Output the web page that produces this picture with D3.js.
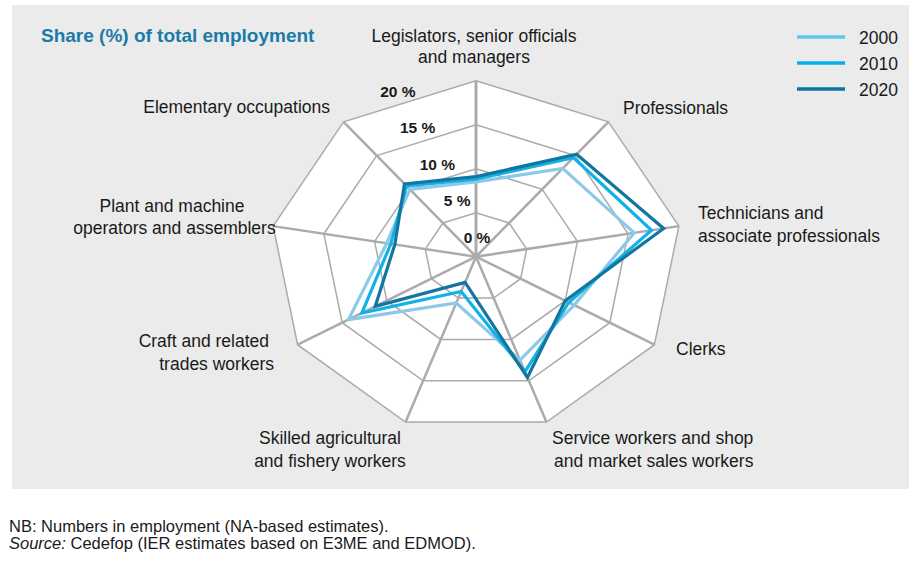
<!DOCTYPE html>
<html><head><meta charset="utf-8">
<script src="https://cdn.jsdelivr.net/npm/d3@7"></script>
<style>
html,body{margin:0;padding:0;background:#fff;}
svg{display:block;font-family:"Liberation Sans",Arial,Helvetica,sans-serif;}
</style></head>
<body>
<svg id="chart" width="918" height="565"></svg>
<script>
// ---- data ----
const categories = [
  "Legislators, senior officials|and managers",
  "Professionals",
  "Technicians and|associate professionals",
  "Clerks",
  "Service workers and shop|and market sales workers",
  "Skilled agricultural|and fishery workers",
  "Craft and related|trades workers",
  "Plant and machine|operators and assemblers",
  "Elementary occupations"
];
const years = ["2000", "2010", "2020"];
const values2000 = [8.5, 13.1, 15.6, 11.0, 12.5, 5.6, 14.3, 8.8, 10.0];
const values2010 = [8.8, 14.7, 17.3, 10.4, 13.9, 4.2, 12.8, 8.4, 10.5];
const values2020 = [9.1, 15.2, 18.5, 10.0, 14.6, 3.1, 11.3, 8.0, 10.8];
const tickValues = [0, 5, 10, 15, 20];
const tickLabels = ["0 %", "5 %", "10 %", "15 %", "20 %"];
const seriesColors = ["#8cc9e8", "#12b1e6", "#13769f"];
const legendColors = ["#5fc6ee", "#05afe8", "#0a76a0"];

// ---- layout ----
const svg = d3.select("#chart");
const cx = 476, cy = 256.7;
const rX = d3.scaleLinear().domain([0, 20]).range([0, 206]);
const rY = d3.scaleLinear().domain([0, 20]).range([0, 176]);
const angle = d3.scaleLinear().domain([0, categories.length]).range([0, 2 * Math.PI]);
const pt = (i, v) => [cx + rX(v) * Math.sin(angle(i)), cy - rY(v) * Math.cos(angle(i))];

// background panel
svg.append("rect").attr("x", 12).attr("y", 5).attr("width", 897).attr("height", 484).attr("fill", "#ebebeb");

// white plot area
const outer = categories.map((c, i) => pt(i, 20));
svg.append("polygon").attr("points", outer.map(p => p.join(",")).join(" ")).attr("fill", "#fff");

// rings
tickValues.filter(v => v > 0).forEach(v => {
  svg.append("polygon")
    .attr("points", categories.map((c, i) => pt(i, v).join(",")).join(" "))
    .attr("fill", "none").attr("stroke", "#ababab").attr("stroke-width", 1.5);
});
// spokes
categories.forEach((c, i) => {
  const p = pt(i, 20);
  svg.append("line").attr("x1", cx).attr("y1", cy).attr("x2", p[0]).attr("y2", p[1])
    .attr("stroke", "#ababab").attr("stroke-width", i === 0 ? 3 : 2.5);
});

// series
const allSeries = [values2000, values2010, values2020];
const lineGen = d3.line().curve(d3.curveLinearClosed);
allSeries.forEach((vals, s) => {
  svg.append("path")
    .attr("d", lineGen(vals.map((v, i) => pt(i, v))))
    .attr("fill", "none").attr("stroke", seriesColors[s]).attr("stroke-width", 3.2)
    .attr("stroke-linejoin", "miter");
});

// tick labels
tickValues.forEach((v, k) => {
  svg.append("text")
    .attr("x", cx + 1 - rY(v) * 0.45)
    .attr("y", cy - 14 - rY(v) * 0.83)
    .attr("text-anchor", "middle")
    .attr("font-size", 15.5).attr("font-weight", "bold").attr("fill", "#1a1a1a")
    .text(tickLabels[k]);
});

// category label lines: [x, baseline y, anchor] per line
const labelPos = [
  [[474, 42, "middle"], [474, 63, "middle"]],
  [[623, 114, "start"]],
  [[698, 219, "start"], [698, 242, "start"]],
  [[676, 355, "start"]],
  [[552, 444, "start"], [554, 467, "start"]],
  [[330, 444, "middle"], [330, 467, "middle"]],
  [[269, 347, "end"], [274, 370, "end"]],
  [[172, 212, "middle"], [174.5, 234, "middle"]],
  [[330, 113, "end"]]
];
categories.forEach((c, i) => {
  c.split("|").forEach((ln, j) => {
    const p = labelPos[i][j];
    svg.append("text").attr("x", p[0]).attr("y", p[1]).attr("text-anchor", p[2])
      .attr("font-size", 17.5).attr("fill", "#1a1a1a").text(ln);
  });
});

// title
svg.append("text").attr("x", 41).attr("y", 42)
  .attr("font-size", 19).attr("font-weight", "bold").attr("fill", "#1a7ca6")
  .text("Share (%) of total employment");

// legend
years.forEach((y, s) => {
  const ly = 37 + s * 26;
  svg.append("line").attr("x1", 797).attr("x2", 845).attr("y1", ly).attr("y2", ly)
    .attr("stroke", legendColors[s]).attr("stroke-width", 3.5);
  svg.append("text").attr("x", 859).attr("y", ly + 7)
    .attr("font-size", 17.5).attr("fill", "#1a1a1a").text(y);
});

// footer
svg.append("text").attr("x", 9).attr("y", 532).attr("font-size", 16.5).attr("fill", "#1a1a1a")
  .text("NB: Numbers in employment (NA-based estimates).");
const src = svg.append("text").attr("x", 9).attr("y", 549).attr("font-size", 16.5).attr("fill", "#1a1a1a");
src.append("tspan").attr("font-style", "italic").text("Source:");
src.append("tspan").text(" Cedefop (IER estimates based on E3ME and EDMOD).");
</script>
</body></html>
